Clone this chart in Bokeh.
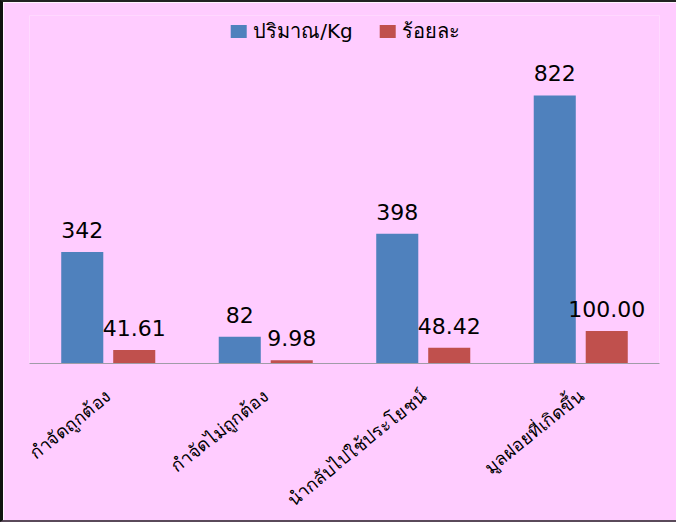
from bokeh.plotting import figure
from bokeh.models import ColumnDataSource, Legend, LegendItem, FactorRange, Range1d
from bokeh.transform import dodge
from bokeh.core.properties import value
from bokeh.embed import file_html
from bokeh.resources import INLINE

categories = ["กำจัดถูกต้อง", "กำจัดไม่ถูกต้อง", "นำกลับไปใช้ประโยชน์", "มูลฝอยที่เกิดขึ้น"]
qty = [342, 82, 398, 822]
pct = [41.61, 9.98, 48.42, 100.00]
qty_labels = ["342", "82", "398", "822"]
pct_labels = ["41.61", "9.98", "48.42", "100.00"]
series_names = ["ปริมาณ/Kg", "ร้อยละ"]

BLUE = "#4F81BD"
RED = "#C0504D"
BG = "#FFCCFF"

src = ColumnDataSource(dict(cat=categories, qty=qty, pct=pct,
                            qty_label=qty_labels, pct_label=pct_labels))

p = figure(x_range=FactorRange(*categories), y_range=Range1d(0, 1067),
           width=676, height=522, output_backend="svg", toolbar_location=None,
           y_axis_location=None,
           min_border_left=26, min_border_right=20, min_border_top=13, min_border_bottom=161)
p.background_fill_color = BG
p.border_fill_color = BG
p.outline_line_color = None
p.xgrid.visible = False
p.ygrid.visible = False
p.styles = {"border-top": "2px solid #222222",
            "border-left": "3px solid #111111",
            "border-bottom": "2px solid #5A4A5A"}

r1 = p.vbar(x=dodge("cat", -0.165, range=p.x_range), top="qty", width=0.267,
            source=src, fill_color=BLUE, line_color=None)
r2 = p.vbar(x=dodge("cat", 0.165, range=p.x_range), top="pct", width=0.267,
            source=src, fill_color=RED, line_color=None)

p.text(x=dodge("cat", -0.165, range=p.x_range), y="qty", text="qty_label", source=src,
       text_align="center", text_baseline="alphabetic", y_offset=-22,
       text_font=value("DejaVu Sans"), text_font_size="22px", text_color="black")
p.text(x=dodge("cat", 0.165, range=p.x_range), y="pct", text="pct_label", source=src,
       text_align="center", text_baseline="alphabetic", y_offset=-22,
       text_font=value("DejaVu Sans"), text_font_size="22px", text_color="black")

legend = Legend(items=[LegendItem(label=series_names[0], renderers=[r1]),
                       LegendItem(label=series_names[1], renderers=[r2])],
                orientation="horizontal", location="top_center",
                background_fill_alpha=0, border_line_color=None,
                glyph_width=20, glyph_height=16, label_text_font_size="20px",
                label_text_font="DejaVu Sans", label_text_color="black",
                spacing=24, padding=11, margin=0)
p.add_layout(legend)

ax = p.xaxis[0]
ax.axis_line_color = "#A09CA8"
ax.major_tick_line_color = None
ax.minor_tick_line_color = None
ax.major_label_orientation = 0.68
ax.major_label_standoff = 24
ax.major_label_text_font_size = "18px"
ax.major_label_text_font = "DejaVu Sans"
ax.major_label_text_color = "black"

open("out.html", "w").write(file_html(p, INLINE))
